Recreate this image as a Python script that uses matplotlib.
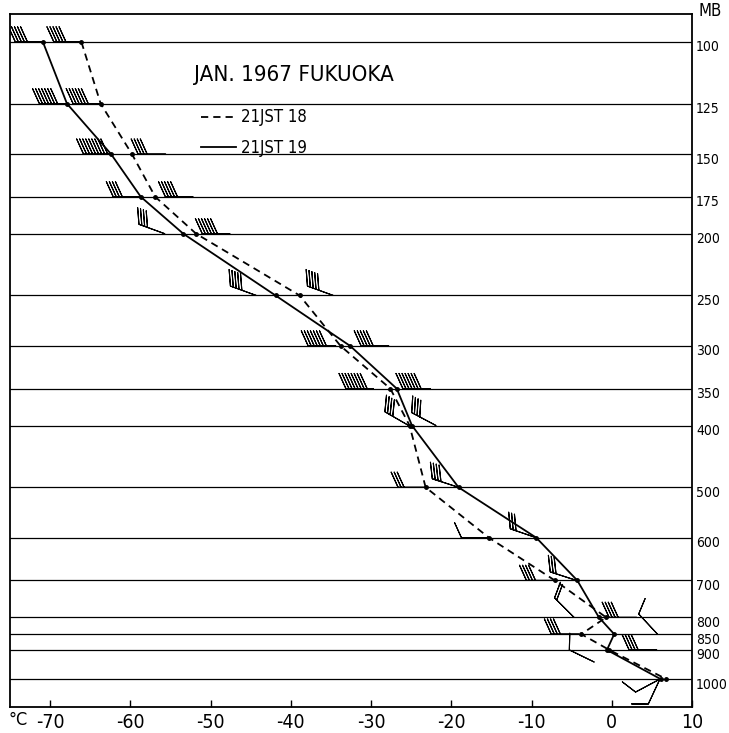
import matplotlib
matplotlib.use('Agg')
import matplotlib.pyplot as plt
import matplotlib.transforms as mtransforms
from matplotlib.ticker import NullLocator
import numpy as np

plt.rcParams['font.family'] = ['DejaVu Sans']
plt.rcParams['font.stretch'] = 'condensed'

levels = [100, 125, 150, 175, 200, 250, 300, 350, 400, 500, 600, 700, 800, 850, 900, 1000]
temp_18 = [-66.1, -63.7, -59.8, -56.9, -51.8, -38.9, -33.8, -27.6, -25.2, -23.2,
           -15.3, -7.1, -0.7, -3.8, -0.3, 6.8]
temp_19 = [-70.9, -67.9, -62.4, -58.7, -53.4, -41.9, -32.6, -26.8, -24.9, -19.1,
           -9.4, -4.3, -1.6, 0.3, -0.6, 6.1]

# wind barbs: station temp, pressure, direction (deg), speed (kt)
wind_t = [-70.9, -66.1, -67.9, -63.7, -62.4, -55.6, -58.7, -52.2, -55.7, -47.6,
          -44.3, -34.7, -34.4, -27.8, -29.7, -22.6, -25.3, -21.9, -23.2, -19.1,
          -15.3, -9.4, -7.2, -4.4, -4.7, 3.1, 5.7, -4.1, -2.2, 5.6, 6.0, 6.0]
wind_p = [100, 100, 125, 125, 150, 150, 175, 175, 200, 200,
          250, 250, 300, 300, 350, 350, 400, 400, 500, 500,
          600, 600, 700, 700, 800, 800, 850, 850, 940, 900, 1000, 1000]
wind_dir = [270, 270, 270, 270, 270, 270, 270, 270, 290, 270,
            290, 290, 270, 270, 270, 270, 300, 298, 270, 288,
            270, 289, 270, 288, 315, 270, 317, 270, 296, 270, 242, 205]
wind_kt = [50, 50, 70, 60, 90, 40, 40, 50, 40, 60,
           50, 50, 70, 50, 80, 70, 40, 40, 30, 40,
           10, 30, 40, 30, 20, 40, 10, 40, 10, 40, 10, 10]

xticks = [-70, -60, -50, -40, -30, -20, -10, 0, 10]
xticklabels = ['-70', '-60', '-50', '-40', '-30', '-20', '-10', '0', '10']


def main():
    fig = plt.figure(figsize=(7.29, 7.33), dpi=100)
    ax = fig.add_axes([10 / 729, 1 - 707 / 733, 682 / 729, 693 / 733])

    ax.set_yscale('log')
    ax.set_xlim(-75, 10)
    ax.set_ylim(1106, 90.4)

    for p in levels:
        ax.axhline(p, color='black', lw=0.9, zorder=1)

    l18, = ax.plot(temp_18, levels, color='black', lw=1.3, dashes=(4, 2.8),
                   marker='o', markersize=2.5, zorder=3)
    l19, = ax.plot(temp_19, levels, color='black', lw=1.3,
                   marker='o', markersize=2.5, zorder=3)

    wd = np.radians(wind_dir)
    spd = np.array(wind_kt, dtype=float)
    u = -spd * np.sin(wd)
    v = -spd * np.cos(wd)
    ax.barbs(wind_t, wind_p, u, v, length=6.3, linewidth=0.8, color='black',
             barb_increments=dict(half=5, full=10, flag=1000),
             sizes=dict(spacing=0.11, height=0.55, width=0.5), zorder=4)

    # axes styling
    for s in ax.spines.values():
        s.set_linewidth(1.3)
    ax.set_xticks(xticks)
    ax.set_xticklabels(xticklabels, fontsize=14)
    ax.tick_params(axis='x', direction='in', length=5, width=1, pad=4)

    ax.yaxis.tick_right()
    ax.yaxis.set_minor_locator(NullLocator())
    ax.set_yticks(levels)
    ax.set_yticklabels([str(p) for p in levels], fontsize=10)
    ax.tick_params(axis='y', which='both', length=0, pad=3)
    shift = mtransforms.ScaledTranslation(0, -4 / 100, fig.dpi_scale_trans)
    for lbl in ax.get_yticklabels():
        lbl.set_transform(lbl.get_transform() + shift)

    fig.text(698 / 729, 1 - 11 / 733, 'MB', fontsize=12, ha='left', va='center')
    fig.text(8 / 729, 1 - 720 / 733, '°C', fontsize=13, ha='left', va='center')

    fig.text(194 / 729, 1 - 75 / 733, 'JAN. 1967 FUKUOKA', fontsize=16,
             ha='left', va='center')
    ax.legend([l18, l19], ['21JST 18', '21JST 19'], loc='upper left',
              bbox_to_anchor=(193 / 729, 1 - 100 / 733), bbox_transform=fig.transFigure,
              frameon=False, fontsize=12, handlelength=2.1, handletextpad=0.3,
              labelspacing=0.75, borderpad=0, markerscale=0)

    fig.savefig('out.png', dpi=100)
    plt.close(fig)


if __name__ == '__main__':
    main()
